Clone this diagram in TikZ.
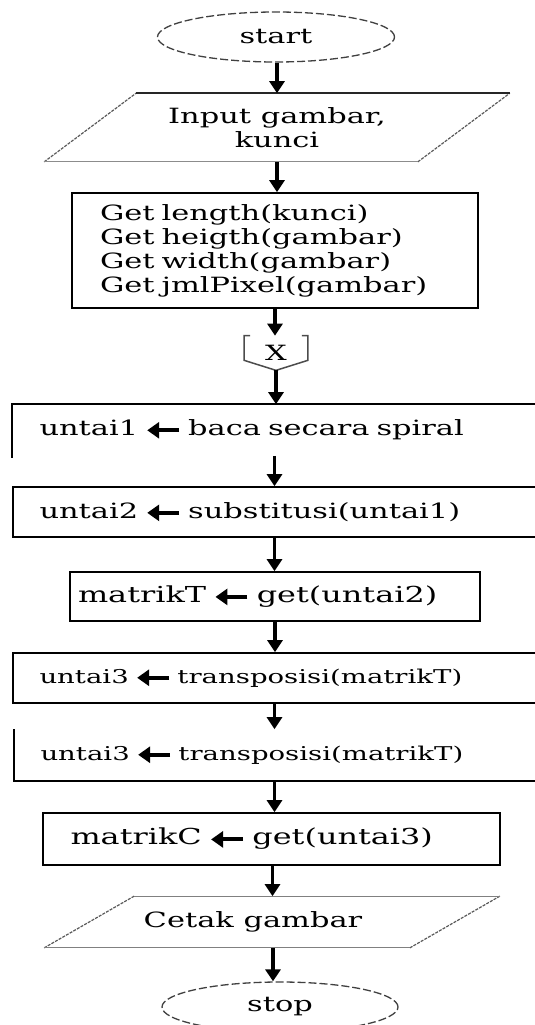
\documentclass[tikz,border=0pt]{standalone}
\usepackage{fontspec}
\setmainfont{DejaVu Serif}[FakeStretch=1.45]
\usetikzlibrary{arrows.meta,shapes.geometric}
\newcommand\larr{\tikz[baseline=-5.5pt]{\draw[line width=4pt,-{Triangle[width=16pt,length=12pt]}] (32pt,0pt) -- (0pt,0pt);}}
\begin{document}
\begin{tikzpicture}[x=1pt,y=-1pt,
  lbl/.style={font=\fontsize{21}{24}\selectfont},
  blk/.style={rectangle,inner sep=0pt,line width=1.7pt,lbl},
  term/.style={ellipse,draw=black!75,dash pattern=on 8pt off 3pt,line width=1.3pt,inner sep=0pt,lbl},
  io/.style={draw=black!65,line width=1.2pt,dash pattern=on 3pt off 1.2pt},
  arr/.style={line width=3.6pt,-{Triangle[width=15pt,length=12pt]}}]
\useasboundingbox (0,0) rectangle (535,1025);
\clip (0,0) rectangle (535,1025);

\node[term,minimum width=237pt,minimum height=50pt] (start) at (276,37) {start};

\node[blk,minimum width=372pt,minimum height=67pt,align=center] (inp) at (277,127.5) {Input gambar,\\kunci};
\draw[io] ([xshift=-46pt]inp.south west) -- ([xshift=46pt]inp.north west);
\draw[io] ([xshift=-46pt]inp.south east) -- ([xshift=46pt]inp.north east);
\draw[black!85,line width=1.8pt] ([xshift=46pt]inp.north west) -- ([xshift=46pt]inp.north east);
\draw[black!45,line width=1pt] ([xshift=-46pt]inp.south west) -- ([xshift=-46pt]inp.south east);

\node[blk,draw,minimum width=406pt,minimum height=115pt,text width=350pt,align=left] (get) at (275,250.5)
  {Get length(kunci)\\Get heigth(gambar)\\Get width(gambar)\\Get jmlPixel(gambar)};

\node[blk,minimum width=62pt,minimum height=33pt] (xc) at (276,353) {X};
\draw[black!70,line width=1.5pt] ([xshift=6pt]xc.north west) -- (xc.north west) -- ([yshift=10pt]xc.south west) -- (xc.south) -- ([yshift=10pt]xc.south east) -- (xc.north east) -- ([xshift=-6pt]xc.north east);

\node[blk,minimum width=527pt,minimum height=50pt,text width=474pt,align=left] (u1) at (276.5,430) {untai1 \larr\ baca secara spiral};
\draw[line width=1.7pt] ([yshift=-2pt]u1.south west) -- (u1.north west) -- (u1.north east);

\node[blk,draw,minimum width=527pt,minimum height=50pt,text width=474pt,align=left] (u2) at (276.5,512) {untai2 \larr\ substitusi(untai1)};

\node[blk,draw,minimum width=410pt,minimum height=49pt,text width=394pt,align=left,font=\fontsize{22}{26}\selectfont] (mt) at (275,596.5) {matrikT \larr\ get(untai2)};

\node[blk,draw,minimum width=527pt,minimum height=50pt,text width=474pt,align=left,font=\fontsize{19}{24}\selectfont] (u3) at (276.5,678) {untai3 \larr\ transposisi(matrikT)};

\node[blk,minimum width=525pt,minimum height=50pt,text width=474pt,align=left,font=\fontsize{19}{24}\selectfont] (u3b) at (277.5,755) {untai3 \larr\ transposisi(matrikT)};
\draw[line width=1.7pt] (u3b.north west) -- (u3b.south west) -- (u3b.south east);

\node[blk,draw,minimum width=457pt,minimum height=52pt,text width=402pt,align=left,font=\fontsize{22}{26}\selectfont] (mc) at (271.5,839) {matrikC \larr\ get(untai3)};

\node[blk,minimum width=364pt,minimum height=50pt] (ct) at (272,922) {\hspace*{-38pt}Cetak gambar};
\draw[io] ([xshift=-45pt]ct.south west) -- ([xshift=45pt]ct.north west);
\draw[io] ([xshift=-45pt]ct.south east) -- ([xshift=45pt]ct.north east);
\draw[black!50,line width=1pt] ([xshift=45pt]ct.north west) -- ([xshift=45pt]ct.north east);
\draw[black!50,line width=1pt] ([xshift=-45pt]ct.south west) -- ([xshift=-45pt]ct.south east);

\node[term,minimum width=236pt,minimum height=50pt] (stop) at (280,1007) {stop};

\draw[arr] ([xshift=1pt]start.south) -- ([xshift=1pt]start.south |- inp.north);
\draw[arr] (inp.south) -- (inp.south |- get.north);
\draw[arr] (get.south) -- (get.south |- xc.north);
\draw[arr] (xc.south) -- (xc.south |- u1.north);
\draw[arr] ([xshift=-2pt]u1.south) -- ([xshift=-2pt]u1.south |- u2.north);
\draw[arr] ([xshift=-2pt]u2.south) -- ([xshift=-2pt]u2.south |- mt.north);
\draw[arr] (mt.south) -- (mt.south |- u3.north);
\draw[arr] ([xshift=-2pt]u3.south) -- ([xshift=-2pt]u3.south |- u3b.north);
\draw[arr] ([xshift=-3pt]u3b.south) -- ([xshift=-3pt]u3b.south |- mc.north);
\draw[arr] ([xshift=1pt]mc.south) -- ([xshift=1pt]mc.south |- ct.north);
\draw[arr] ([xshift=1pt]ct.south) -- ([xshift=1pt]ct.south |- stop.north);
\end{tikzpicture}
\end{document}
